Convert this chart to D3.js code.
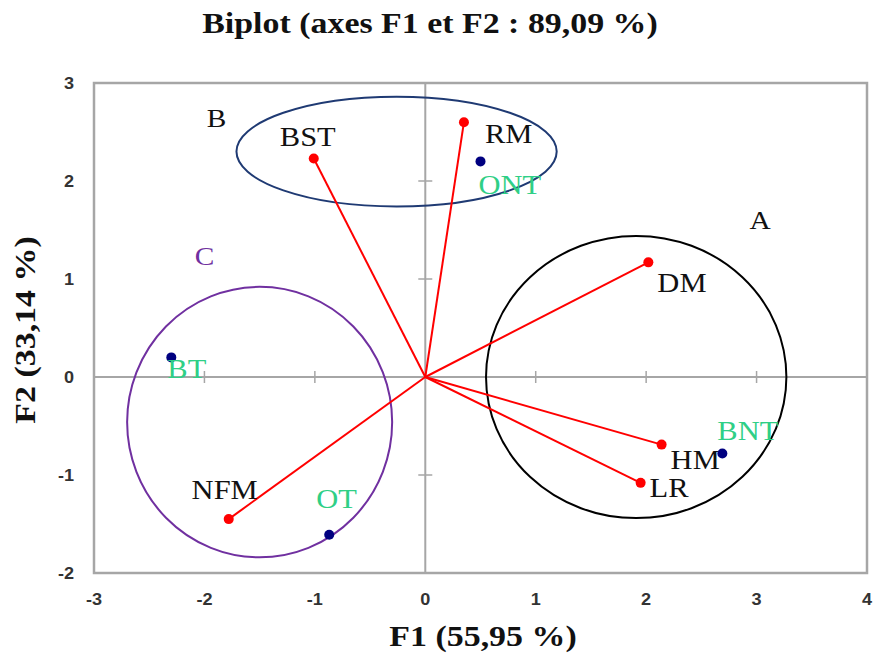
<!DOCTYPE html>
<html><head><meta charset="utf-8">
<script src="https://cdn.jsdelivr.net/npm/d3@7"></script>
<style>html,body{margin:0;padding:0;background:#fff}</style>
</head><body>
<svg id="chart" width="876" height="654"></svg>
<script>
// Variables (red vectors)
const varNames = ["RM","BST","DM","HM","LR","NFM"];
const varF1 = [0.35,-1.01,2.02,2.14,1.95,-1.78];
const varF2 = [2.60,2.23,1.17,-0.69,-1.08,-1.45];
// Observations (navy points)
const obsNames = ["ONT","BT","BNT","OT"];
const obsF1 = [0.50,-2.30,2.69,-0.87];
const obsF2 = [2.20,0.20,-0.78,-1.61];
// Groups (ellipses, data units)
const groupNames = ["A","B","C"];
const groupCx = [1.91,-0.26,-1.50];
const groupCy = [0.00,2.30,-0.46];
const groupRx = [1.36,1.45,1.20];
const groupRy = [1.44,0.56,1.38];
// Ticks
const xTicks = [-3,-2,-1,0,1,2,3,4];
const yTicks = [-2,-1,0,1,2,3];

// Layout / style
const groupColors = ["#000000","#1f3a73","#7030a0"];
const labelOff = {RM:[21,21,"start"],BST:[-6,-12,"middle"],DM:[9,30,"start"],HM:[9,24,"start"],LR:[9,14,"start"],NFM:[29,-20,"end"],
                  ONT:[-2,33,"start"],BT:[-4,21,"start"],BNT:[-5,-13,"start"],OT:[-13,-27,"start"]};
const groupLabelOff = {A:[124,-148],B:[-180,-25],C:[-55,-157]};

const svg = d3.select("#chart");
const x = d3.scaleLinear().domain([-3,4]).range([94,867]);
const y = d3.scaleLinear().domain([-2,3]).range([573,83]);
const serif = "'Liberation Serif','Times New Roman',serif";
const sans = "'Liberation Sans',Arial,sans-serif";
const sx = 1.13;

function txt(g, s, px, py, size, color, anchor, weight, fam){
  return g.append("text").attr("transform",`translate(${px},${py}) scale(${sx},1)`)
    .attr("text-anchor",anchor||"start").attr("font-family",fam||serif).attr("font-size",size)
    .attr("font-weight",weight||"normal").attr("fill",color).text(s);
}

// Titles
txt(svg,"Biplot (axes F1 et F2 : 89,09 %)",430,33,30,"#111","middle","bold");
txt(svg,"F1 (55,95 %)",483,646,30,"#111","middle","bold");
svg.append("text").attr("transform",`translate(35,330) rotate(-90) scale(${sx},1)`)
  .attr("text-anchor","middle").attr("font-family",serif).attr("font-size",30).attr("font-weight","bold")
  .attr("fill","#111").text("F2 (33,14 %)");

// Frame
svg.append("rect").attr("x",x(-3)).attr("y",y(3)).attr("width",x(4)-x(-3)).attr("height",y(-2)-y(3))
  .attr("fill","none").attr("stroke","#a6a6a6").attr("stroke-width",2.5);

// Zero axes
svg.append("line").attr("x1",x(-3)).attr("x2",x(4)).attr("y1",y(0)).attr("y2",y(0)).attr("stroke","#a6a6a6").attr("stroke-width",2);
svg.append("line").attr("x1",x(0)).attr("x2",x(0)).attr("y1",y(-2)).attr("y2",y(3)).attr("stroke","#a6a6a6").attr("stroke-width",2);
svg.selectAll(".xt").data(xTicks.filter(d=>d>-3&&d<4&&d!==0)).enter().append("line")
  .attr("x1",d=>x(d)).attr("x2",d=>x(d)).attr("y1",y(0)-6).attr("y2",y(0)+6).attr("stroke","#a6a6a6").attr("stroke-width",1.5);
svg.selectAll(".yt").data(yTicks.filter(d=>d>-2&&d<3&&d!==0)).enter().append("line")
  .attr("y1",d=>y(d)).attr("y2",d=>y(d)).attr("x1",x(0)-7).attr("x2",x(0)+7).attr("stroke","#a6a6a6").attr("stroke-width",1.5);

// Tick labels
xTicks.forEach(d=>txt(svg,d,x(d),605,16,"#333","middle","bold",sans));
yTicks.forEach(d=>txt(svg,d,74,y(d)+6,16,"#333","end","bold",sans));

// Ellipses
groupNames.forEach((g,i)=>{
  svg.append("ellipse").attr("cx",x(groupCx[i])).attr("cy",y(groupCy[i]))
    .attr("rx",x(groupCx[i]+groupRx[i])-x(groupCx[i])).attr("ry",y(groupCy[i])-y(groupCy[i]+groupRy[i]))
    .attr("fill","none").attr("stroke",groupColors[i]).attr("stroke-width",2);
  const o = groupLabelOff[g];
  txt(svg,g,x(groupCx[i])+o[0],y(groupCy[i])+o[1],26,i===2?"#7030a0":"#111","middle");
});

// Vectors
varNames.forEach((n,i)=>{
  svg.append("line").attr("x1",x(0)).attr("y1",y(0)).attr("x2",x(varF1[i])).attr("y2",y(varF2[i]))
    .attr("stroke","#ff0000").attr("stroke-width",2);
});
varNames.forEach((n,i)=>{
  svg.append("circle").attr("cx",x(varF1[i])).attr("cy",y(varF2[i])).attr("r",5).attr("fill","#ff0000");
  const o = labelOff[n];
  txt(svg,n,x(varF1[i])+o[0],y(varF2[i])+o[1],27,"#111",o[2]);
});
obsNames.forEach((n,i)=>{
  svg.append("circle").attr("cx",x(obsF1[i])).attr("cy",y(obsF2[i])).attr("r",5).attr("fill","#000080");
  const o = labelOff[n];
  txt(svg,n,x(obsF1[i])+o[0],y(obsF2[i])+o[1],27,"#2fcf86",o[2]);
});
</script>
</body></html>
